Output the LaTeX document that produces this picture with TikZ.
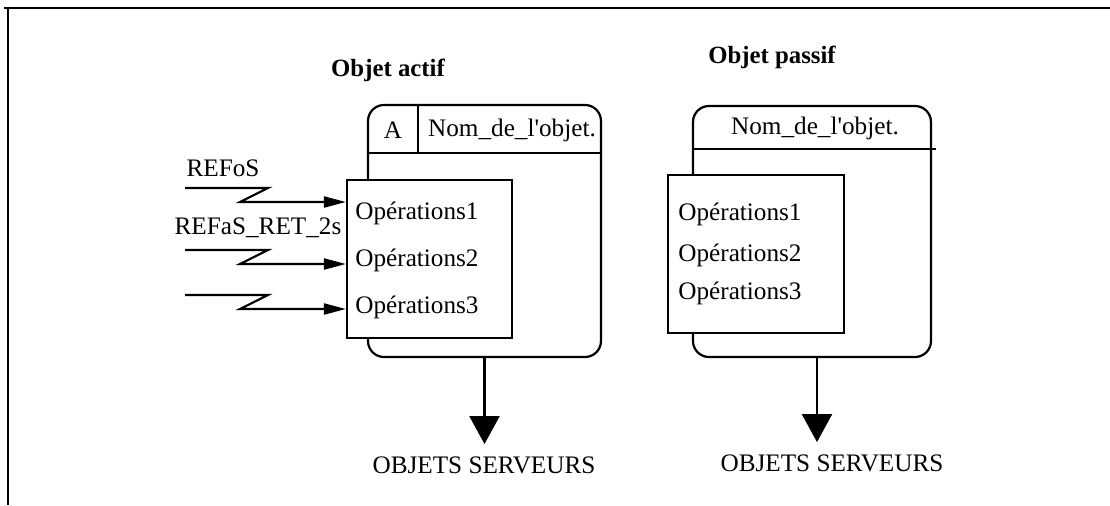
\documentclass[tikz,border=0pt]{standalone}
\usepackage{fontspec}
\setmainfont{Liberation Serif}[Ligatures=TeXOff]
\usetikzlibrary{arrows.meta}

\begin{document}
\begin{tikzpicture}[x=0.5pt,y=-0.5pt,
  txt/.style={font=\fontsize{12.6}{15}\selectfont,inner sep=0pt},
  titre/.style={font=\fontsize{12.4}{15}\selectfont\bfseries,inner sep=0pt},
  srv/.style={font=\fontsize{12.6}{15}\selectfont,inner sep=6pt},
  objbox/.style={draw,line width=1.1pt,rounded corners=8pt,inner sep=0pt},
  opbox/.style={draw,line width=1.1pt,fill=white,inner sep=0pt},
  filet/.style={line width=1.1pt},
  msg/.style={line width=1.1pt,-{Triangle[length=11pt,width=5.5pt]}},
  sortie/.style={line width=1.1pt,-{Triangle[length=14pt,width=15pt]}}]
\useasboundingbox (0,0) rectangle (1110,505);
% cadre
\draw[line width=1.4pt] (4,8) -- (1110,8);
\draw[line width=1.2pt] (8,8) -- (8,505);

% objet actif
\node[titre] (tA) at (388,70) {Objet actif};
\node[objbox,minimum width=116.5pt,minimum height=126pt] (actif) at (484.5,231) {};
\draw[filet] ([yshift=-24.5pt]actif.north west) -- ([yshift=-24.5pt]actif.north east);
\draw[filet] ([xshift=25.5pt]actif.north west) -- ([xshift=25.5pt,yshift=-24.5pt]actif.north west);
\node[txt] (lettre) at (393,130) {A};
\node[txt] (nomA) at (512,130) {Nom\_de\_l'objet.};
\node[opbox,minimum width=82.5pt,minimum height=79pt] (opsA) at (429.5,259) {};
\node[txt,anchor=west] (opA1) at (355,213) {Opérations1};
\node[txt,anchor=west] (opA2) at (355,260) {Opérations2};
\node[txt,anchor=west] (opA3) at (355,307) {Opérations3};
\node[txt] (ref1) at (223,168) {REFoS};
\node[txt] (ref2) at (258,228) {REFaS\_RET\_2s};
\foreach \i/\y in {1/188,2/250,3/295}{
  \coordinate (e\i) at (185,\y);
  \draw[msg] (e\i) -- ++(83,0) -- ++(-28,14) -- (opsA.west |- 0,\y+14);
}
\node[srv] (srvA) at (484,465) {OBJETS SERVEURS};
\draw[sortie] (actif.south) -- (actif.south |- srvA.north);

% objet passif
\node[titre] (tB) at (772,57) {Objet passif};
\node[objbox,minimum width=119pt,minimum height=125.5pt] (passif) at (812,231.5) {};
\draw[filet] ([yshift=-22pt]passif.north west) -- ([yshift=-22pt,xshift=2pt]passif.north east);
\node[txt] (nomB) at (815,128) {Nom\_de\_l'objet.};
\node[opbox,minimum width=88pt,minimum height=79pt] (opsB) at (756,254) {};
\node[txt,anchor=west] (opB1) at (678,214) {Opérations1};
\node[txt,anchor=west] (opB2) at (678,255) {Opérations2};
\node[txt,anchor=west] (opB3) at (678,293) {Opérations3};
\node[srv] (srvB) at (832,463) {OBJETS SERVEURS};
\draw[sortie] ([xshift=2.5pt]passif.south) -- ([xshift=2.5pt]passif.south |- srvB.north);
\end{tikzpicture}
\end{document}
